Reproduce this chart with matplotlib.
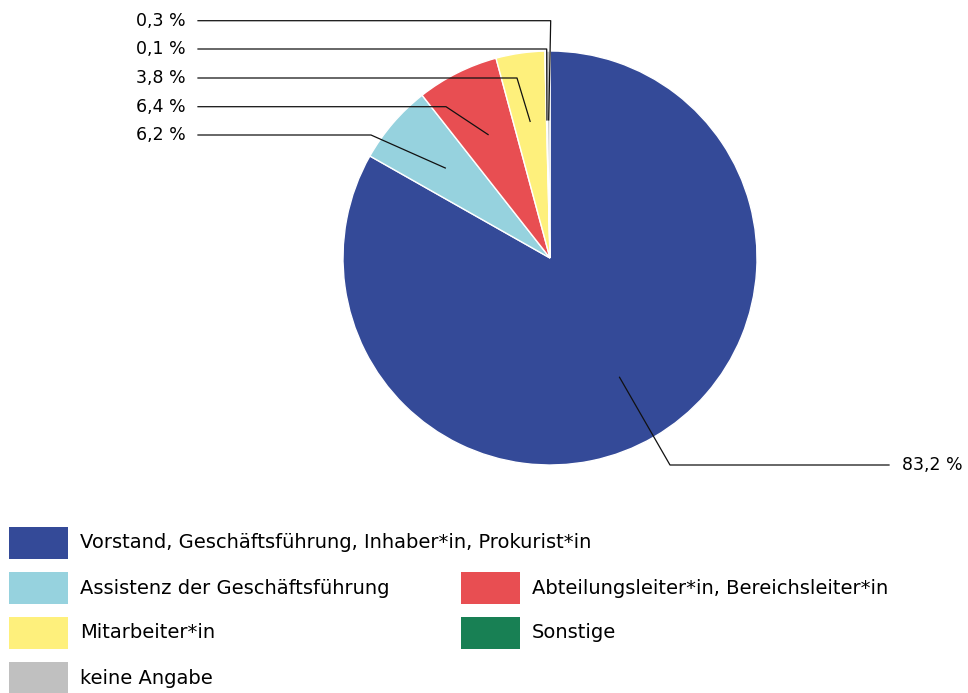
import matplotlib
matplotlib.use('Agg')
import matplotlib.pyplot as plt
import matplotlib.patches as mpatches
import numpy as np

plt.rcParams.update({'font.family': ['DejaVu Sans'], 'font.size': 14})

# data
kategorien = ['Vorstand, Geschäftsführung, Inhaber*in, Prokurist*in',
              'Assistenz der Geschäftsführung',
              'Abteilungsleiter*in, Bereichsleiter*in',
              'Mitarbeiter*in',
              'Sonstige',
              'keine Angabe']
anteile = [83.2, 6.2, 6.4, 3.8, 0.1, 0.3]
farben = ['#344A98', '#96D2DE', '#E84E52', '#FEF07C', '#188054', '#C0C0C0']

# layout (pixel coords, y from top)
W, H = 968, 693
CX, CY, R = 550, 258, 207
lab_y = [465, 135, 106.7, 78, 49, 20.7]       # label row per slice
knick_x = [670, 371, 446, 517, 546.7, 550.7]  # elbow x per slice
leg_pos = [(0, 0), (1, 0), (1, 1), (2, 0), (2, 1), (3, 0)]  # (row, col)

fig = plt.figure(figsize=(W / 100, H / 100), dpi=100)
ax = fig.add_axes([0, 0, 1, 1])

def fy(y): return H - y

wedges, _ = ax.pie(anteile, colors=farben, startangle=90, counterclock=False,
                   center=(CX, fy(CY)), radius=R, frame=True,
                   wedgeprops=dict(edgecolor='white', linewidth=1))
ax.set_xlim(0, W); ax.set_ylim(0, H); ax.set_aspect('equal')
ax.axis('off')

# leader lines + labels
for i, (w, v) in enumerate(zip(wedges, anteile)):
    mid = np.deg2rad((w.theta1 + w.theta2) / 2)
    axx = CX + 0.667 * R * np.cos(mid)
    ayy = fy(CY) + 0.667 * R * np.sin(mid)
    txt = f'{v:.1f} %'.replace('.', ',')
    ly = fy(lab_y[i])
    if i == 0:
        ax.plot([axx, knick_x[i], 889], [ayy, ly, ly], color='#111111', lw=0.9)
        ax.text(902, ly, txt, ha='left', va='center', fontsize=12.5)
    else:
        ax.plot([axx, knick_x[i], 198], [ayy, ly, ly], color='#111111', lw=0.9)
        ax.text(136, ly, txt, ha='left', va='center', fontsize=12.5)

# legend
for i, (name, c) in enumerate(zip(kategorien, farben)):
    row, col = leg_pos[i]
    x0 = 9 + col * 452
    yc = 543 + row * 45
    ax.add_patch(mpatches.Rectangle((x0, fy(yc) - 16), 59, 32, color=c, lw=0))
    ax.text(x0 + 71, fy(yc), name, ha='left', va='center', fontsize=14)

fig.savefig('out.png', dpi=100)
